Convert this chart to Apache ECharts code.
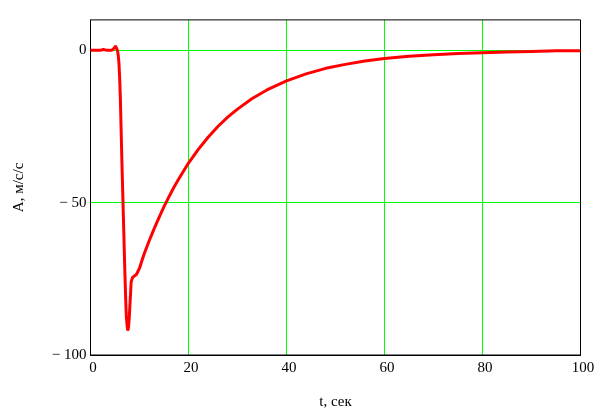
<!DOCTYPE html>
<html>
<head>
<meta charset="utf-8">
<script src="https://cdn.jsdelivr.net/npm/echarts@6/dist/echarts.min.js"></script>
<style>
html,body{margin:0;padding:0;background:#fff;}
#chart{width:607px;height:415px;}
</style>
</head>
<body>
<div id="chart"></div>
<script>
// Time (s) and acceleration (m/s/s)
var times = [0, 1, 2, 2.3, 2.6, 3, 3.4, 3.8, 4.3, 4.7, 4.9, 5.1, 5.3, 5.5, 5.65, 5.8, 5.95, 6.1, 6.25, 6.4, 6.55, 6.7, 6.85, 7.0, 7.15, 7.3, 7.45, 7.6, 7.75, 7.9, 8.1, 8.3, 8.6, 9.0, 9.4, 9.7, 10.0, 10.5, 11, 12, 13, 14, 15, 16, 17, 18, 20, 22, 24, 26, 28, 30, 33, 36, 40, 44, 48, 52, 56, 60, 65, 70, 75, 80, 85, 90, 95, 100];
var accel = [0, 0, 0, 0.2, 0.3, 0.2, 0, 0, 0, 0.3, 0.8, 1.5, 1.0, 0, -1.5, -4, -9, -16, -26, -36, -45, -54, -63, -72, -80, -87, -90, -92, -91, -88, -82, -76, -74.5, -74, -73.5, -73, -71.5, -69, -66.6, -62.4, -58.5, -54.8, -51.3, -48.1, -45.0, -42.2, -37.0, -32.5, -28.5, -25.0, -21.9, -19.3, -15.8, -13.0, -10.0, -7.7, -5.9, -4.6, -3.5, -2.7, -1.9, -1.4, -1.0, -0.75, -0.55, -0.35, -0.15, -0.1];
var xTicks = [0, 20, 40, 60, 80, 100];
var yTicks = [-100, -50, 0];
var xName = 't, сек';
var yName = 'A, м/с/с';

var FONT = "'Liberation Serif', 'Times New Roman', serif";
var GREEN = '#00ff00';
var NONE = 'rgba(0,0,0,0)';
var data = times.map(function (t, i) { return [t, accel[i]]; });

function yLabel(v) {
  if (yTicks.indexOf(v) < 0) return '';
  if (v < 0) return '\u2212 ' + Math.abs(v);
  return String(v);
}

var chart = echarts.init(document.getElementById('chart'), null, {renderer: 'canvas'});
chart.setOption({
  animation: false,
  backgroundColor: '#fff',
  grid: {left: 90.5, right: 26.5, top: 19.9, bottom: 58.5, show: true, borderColor: '#000', borderWidth: 1, backgroundColor: NONE, z: 4},
  xAxis: {
    type: 'value', min: 0, max: 100, interval: 20,
    name: xName, nameLocation: 'middle', nameGap: 40,
    nameTextStyle: {fontFamily: FONT, fontSize: 15, color: '#000'},
    axisLine: {show: true, onZero: false, lineStyle: {color: '#000', width: 1}},
    axisTick: {show: false},
    axisLabel: {fontFamily: FONT, fontSize: 15, color: '#000', margin: 6, padding: [0, 0, 0, 5],
      formatter: function (v) { return xTicks.indexOf(v) >= 0 ? String(v) : ''; }},
    splitLine: {show: true, lineStyle: {color: [NONE, GREEN, GREEN, GREEN, GREEN, NONE], width: 1}}
  },
  yAxis: {
    type: 'value', min: -100, max: 10, interval: 50,
    name: yName, nameLocation: 'middle', nameGap: 64, nameRotate: 90,
    nameTextStyle: {fontFamily: FONT, fontSize: 15, color: '#000'},
    axisLine: {show: true, onZero: false, lineStyle: {color: '#000', width: 1}},
    axisTick: {show: false},
    axisLabel: {fontFamily: FONT, fontSize: 15, color: '#000', margin: 4, padding: [4, 0, 0, 0], formatter: yLabel, showMaxLabel: false},
    splitLine: {show: true, lineStyle: {color: [NONE, GREEN, GREEN, NONE], width: 1}}
  },
  series: [{
    type: 'line', data: data, showSymbol: false, symbol: 'none',
    lineStyle: {color: '#ff0000', width: 3}, z: 5
  }]
});
</script>
</body>
</html>
